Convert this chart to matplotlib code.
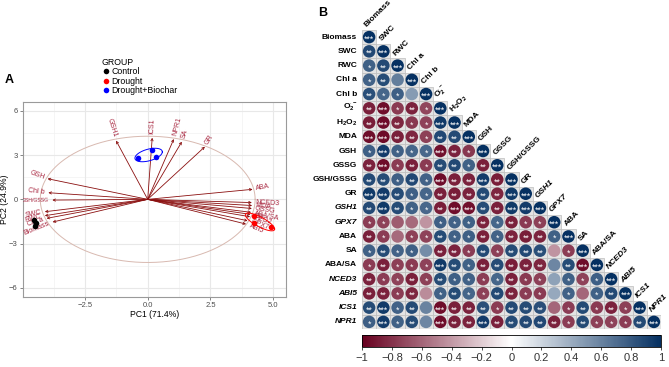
import numpy as np
import matplotlib
matplotlib.use("Agg")
import matplotlib.pyplot as plt
from matplotlib.colors import LinearSegmentedColormap, Normalize
from matplotlib.patches import Circle, Rectangle
from matplotlib.lines import Line2D
from matplotlib.cm import ScalarMappable

plt.rcParams["font.family"] = ["Liberation Sans", "DejaVu Sans"]
plt.rcParams["mathtext.fontset"] = "custom"
plt.rcParams["mathtext.rm"] = "Liberation Sans"
plt.rcParams["mathtext.bf"] = "Liberation Sans:bold"
plt.rcParams["mathtext.it"] = "Liberation Sans:italic"

# ---------------- panel A : PCA biplot ----------------
group_names = ["Control", "Drought", "Drought+Biochar"]
group_colors = ["black", "red", "blue"]
control_pc1 = [-4.52, -4.47, -4.50]
control_pc2 = [-1.40, -1.62, -1.80]
drought_pc1 = [4.25, 4.25, 4.92]
drought_pc2 = [-1.11, -1.59, -1.90]
biochar_pc1 = [-0.37, 0.16, 0.32]
biochar_pc2 = [2.78, 3.35, 2.89]

loading_names = ["Biomass", "SWC", "RWC", "Chl a", "Chl b", "O2-", "H2O2", "MDA",
                 "GSH", "GSSG", "GSH/GSSG", "GR", "GSH1", "GPX7", "ABA", "SA",
                 "ABA/SA", "NCED3", "ABI5", "ICS1", "NPR1"]
loading_pc1 = [-3.79, -4.10, -4.10, -4.03, -3.96, 4.10, 4.08, 4.16, -3.99, 4.15,
               -3.80, 2.28, -1.26, 3.98, 4.18, 1.36, 4.12, 4.15, 3.92, 0.18, 1.04]
loading_pc2 = [-1.54, -0.84, -1.11, -1.29, 0.45, -1.02, -1.18, -0.42, 1.40, -0.62,
               -0.05, 3.57, 3.98, -1.45, 0.68, 3.91, -0.88, -0.22, -1.68, 4.18, 4.09]
circle_radius = 4.28
pc1_label = "PC1 (71.4%)"
pc2_label = "PC2 (24.9%)"

# ---------------- panel B : correlation matrix ----------------
var_labels = ["Biomass", "SWC", "RWC", "Chl a", "Chl b", r"$\mathbf{O_2^{\cdot-}}$",
              r"$\mathbf{H_2O_2}$", "MDA", "GSH", "GSSG", "GSH/GSSG", "GR", "GSH1",
              "GPX7", "ABA", "SA", "ABA/SA", "NCED3", "ABI5", "ICS1", "NPR1"]
italic_vars = {"GSH1", "GPX7", "NCED3", "ABI5", "ICS1", "NPR1"}

corr_rows = [
    [1.00],
    [0.88, 1.00],
    [0.76, 0.87, 1.00],
    [0.75, 0.86, 0.62, 1.00],
    [0.85, 0.74, 0.77, 0.48, 1.00],
    [-0.87, -0.94, -0.77, -0.86, -0.72, 1.00],
    [-0.88, -0.95, -0.85, -0.78, -0.74, 0.95, 1.00],
    [-0.94, -0.96, -0.87, -0.85, -0.75, 0.88, 0.87, 1.00],
    [0.77, 0.94, 0.76, 0.74, 0.73, -0.93, -0.86, -0.78, 1.00],
    [-0.86, -0.95, -0.76, -0.87, -0.77, 0.86, 0.88, 0.76, -0.87, 1.00],
    [0.87, 0.86, 0.77, 0.88, 0.75, -0.95, -0.87, -0.86, 0.94, -0.88, 1.00],
    [0.95, 0.94, 0.86, 0.77, 0.74, -0.87, -0.88, -0.86, 0.87, -0.85, 0.95, 1.00],
    [0.87, 0.95, 0.86, 0.76, 0.73, -0.88, -0.94, -0.93, 0.86, -0.87, 0.95, 0.94, 1.00],
    [-0.76, -0.74, -0.64, -0.58, -0.42, 0.77, 0.75, 0.76, -0.86, 0.74, -0.87, -0.77, -0.75, 1.00],
    [-0.87, -0.76, -0.58, -0.75, -0.74, 0.86, 0.76, 0.77, -0.87, 0.75, -0.86, -0.88, -0.86, 0.76, 1.00],
    [0.76, 0.86, 0.75, 0.77, 0.55, -0.87, -0.86, -0.76, 0.87, -0.75, 0.86, 0.88, 0.85, -0.42, -0.76, 1.00],
    [-0.76, -0.87, -0.75, -0.77, -0.74, 0.95, 0.86, 0.76, -0.87, 0.86, -0.88, -0.86, -0.85, 0.58, 0.86, -0.95, 1.00],
    [-0.86, -0.76, -0.74, -0.87, -0.75, 0.86, 0.77, 0.75, -0.76, 0.74, -0.87, -0.77, -0.75, 0.45, 0.76, -0.74, 0.77, 1.00],
    [-0.87, -0.86, -0.76, -0.85, -0.45, 0.76, 0.86, 0.74, -0.75, 0.87, -0.86, -0.76, -0.77, 0.42, 0.75, -0.60, 0.76, 0.87, 1.00],
    [0.86, 0.95, 0.75, 0.87, 0.60, -0.95, -0.87, -0.86, 0.85, -0.76, 0.87, 0.86, 0.85, -0.60, -0.76, 0.87, -0.77, -0.86, -0.75, 1.00],
    [0.77, 0.94, 0.76, 0.86, 0.58, -0.95, -0.87, -0.86, 0.94, -0.87, 0.86, 0.87, 0.88, -0.86, -0.76, 0.87, -0.75, -0.74, -0.76, 0.87, 1.00],
]
# critical |r| for p < 0.001, 0.01, 0.05 with n = 9
r_critical = [(0.898, "***"), (0.798, "**"), (0.666, "*")]
cbar_ticks = [-1, -0.8, -0.6, -0.4, -0.2, 0, 0.2, 0.4, 0.6, 0.8, 1]


def stars(r):
    for limit, mark in r_critical:
        if abs(r) > limit:
            return mark
    return ""


def group_ellipse(x, y, prob=0.68, n=120):
    pts = np.column_stack([x, y])
    mu = pts.mean(axis=0)
    chol = np.linalg.cholesky(np.cov(pts.T))
    scale = np.sqrt(-2 * np.log(1 - prob))
    t = np.linspace(0, 2 * np.pi, n)
    unit = np.column_stack([np.cos(t), np.sin(t)])
    return mu + scale * unit @ chol.T


W, H = 669, 367
fig = plt.figure(figsize=(W / 100, H / 100), dpi=100)

# ---- PCA ----
ax = fig.add_axes([22.7 / W, 1 - 296.7 / H, 263.3 / W, 194.7 / H])
ax.set_xlim(-4.98, 5.51)
ax.set_ylim(-6.6, 6.6)
for v in [-3.75, -1.25, 1.25, 3.75]:
    ax.axvline(v, color="#F2F2F2", lw=0.5, zorder=0)
for v in [-4.5, -1.5, 1.5, 4.5]:
    ax.axhline(v, color="#F2F2F2", lw=0.5, zorder=0)
for v in [-2.5, 0, 2.5, 5]:
    ax.axvline(v, color="#E8E8E8", lw=0.8, zorder=0)
for v in [-6, -3, 0, 3, 6]:
    ax.axhline(v, color="#E8E8E8", lw=0.8, zorder=0)

t = np.linspace(0, 2 * np.pi, 300)
ax.plot(circle_radius * np.cos(t), circle_radius * np.sin(t), color="#D8B9B0", lw=0.7, zorder=1)

for name, vx, vy in zip(loading_names, loading_pc1, loading_pc2):
    ax.annotate("", xy=(vx, vy), xytext=(0, 0),
                arrowprops=dict(arrowstyle="->", color="#8B1010", lw=0.6,
                                mutation_scale=4, shrinkA=0, shrinkB=0), zorder=2)
    ang = np.degrees(np.arctan(vy / vx))
    d = 1.0 if vx > 0 else -1.0
    off = 2.5 * d
    # the long ratio label sits squeezed against the left border
    fs = 3.7 if name == "GSH/GSSG" else 5
    ax.annotate(name, xy=(vx, vy),
                xytext=(off * np.cos(np.radians(ang)), off * np.sin(np.radians(ang))),
                textcoords="offset points", rotation=ang, rotation_mode="anchor",
                ha="left" if vx > 0 else "right", va="center",
                fontsize=fs, color="#A8263F", zorder=3, clip_on=True)

groups = [(control_pc1, control_pc2), (drought_pc1, drought_pc2), (biochar_pc1, biochar_pc2)]
for (gx, gy), color in zip(groups, group_colors):
    ell = group_ellipse(gx, gy)
    ax.plot(ell[:, 0], ell[:, 1], color=color, lw=0.7, zorder=4)
    ax.scatter(gx, gy, s=16, color=color, zorder=5, linewidths=0)

ax.set_xticks([-2.5, 0, 2.5, 5])
ax.set_xticklabels(["\u22122.5", "0.0", "2.5", "5.0"])
ax.set_yticks([-6, -3, 0, 3, 6])
ax.set_yticklabels(["\u22126", "\u22123", "0", "3", "6"])
ax.tick_params(labelsize=5.5, labelcolor="#4D4D4D", length=2, width=0.5, color="#555555", pad=1.5)
for sp in ax.spines.values():
    sp.set_color("#9A9A9A")
    sp.set_linewidth(0.8)
ax.set_xlabel(pc1_label, fontsize=6.2, labelpad=1)
ax.set_ylabel(pc2_label, fontsize=6.2)
ax.yaxis.set_label_coords(-0.052, 0.5)

handles = [Line2D([], [], marker="o", ls="", color=c, markersize=4, markeredgewidth=0)
           for c in group_colors]
fig.legend(handles, group_names, title="GROUP", loc="upper left",
           bbox_to_anchor=(102 / W, 1 - 58 / H), frameon=False, fontsize=6.3,
           title_fontsize=6.3, handletextpad=0.1, labelspacing=0.05, handlelength=1.0,
           borderaxespad=0, borderpad=0, alignment="left")

fig.text(5 / W, 1 - 80 / H, "A", fontsize=9, weight="bold", va="center")
fig.text(318 / W, 1 - 13 / H, "B", fontsize=9, weight="bold", va="center")

# ---- correlation matrix ----
cmap = LinearSegmentedColormap.from_list("rdbu", ["#67001F", "#FFFFFF", "#053061"])
norm = Normalize(-1, 1)
n = len(var_labels)
mx = fig.add_axes([362 / W, 1 - 329 / H, 299 / W, 299 / H])
mx.set_xlim(0, n)
mx.set_ylim(n, 0)
mx.axis("off")
for i, row in enumerate(corr_rows):
    for j, r in enumerate(row):
        mx.add_patch(Rectangle((j, i), 1, 1, fc="#E4E4E4", ec="#BDBDBD", lw=0.5))
        mx.add_patch(Circle((j + 0.5, i + 0.5), 0.44, fc=cmap(norm(r)), ec="none"))
        mx.text(j + 0.5, i + 0.66, stars(r), color="white", fontsize=6.3,
                ha="center", va="center")

for i, lab in enumerate(var_labels):
    style = "italic" if lab in italic_vars else "normal"
    mx.text(-0.35, i + 0.5, lab, ha="right", va="center", fontsize=6,
            fontweight="bold", fontstyle=style, clip_on=False)
    mx.text(i + 0.35, i - 0.2, lab, ha="left", va="baseline", rotation=45,
            rotation_mode="anchor", fontsize=6, fontweight="bold", fontstyle=style,
            clip_on=False)

cax = fig.add_axes([362 / W, 1 - 347 / H, 299 / W, 12 / H])
cb = fig.colorbar(ScalarMappable(norm=norm, cmap=cmap), cax=cax, orientation="horizontal")
cb.set_ticks(cbar_ticks)
cb.set_ticklabels([("\u2212" + f"{abs(v):g}") if v < 0 else f"{v:g}" for v in cbar_ticks])
cb.outline.set_linewidth(0.6)
cax.tick_params(labelsize=8, labelcolor="#333333", length=2.5, width=0.5, pad=1.5)

fig.savefig("out.png", dpi=100)
